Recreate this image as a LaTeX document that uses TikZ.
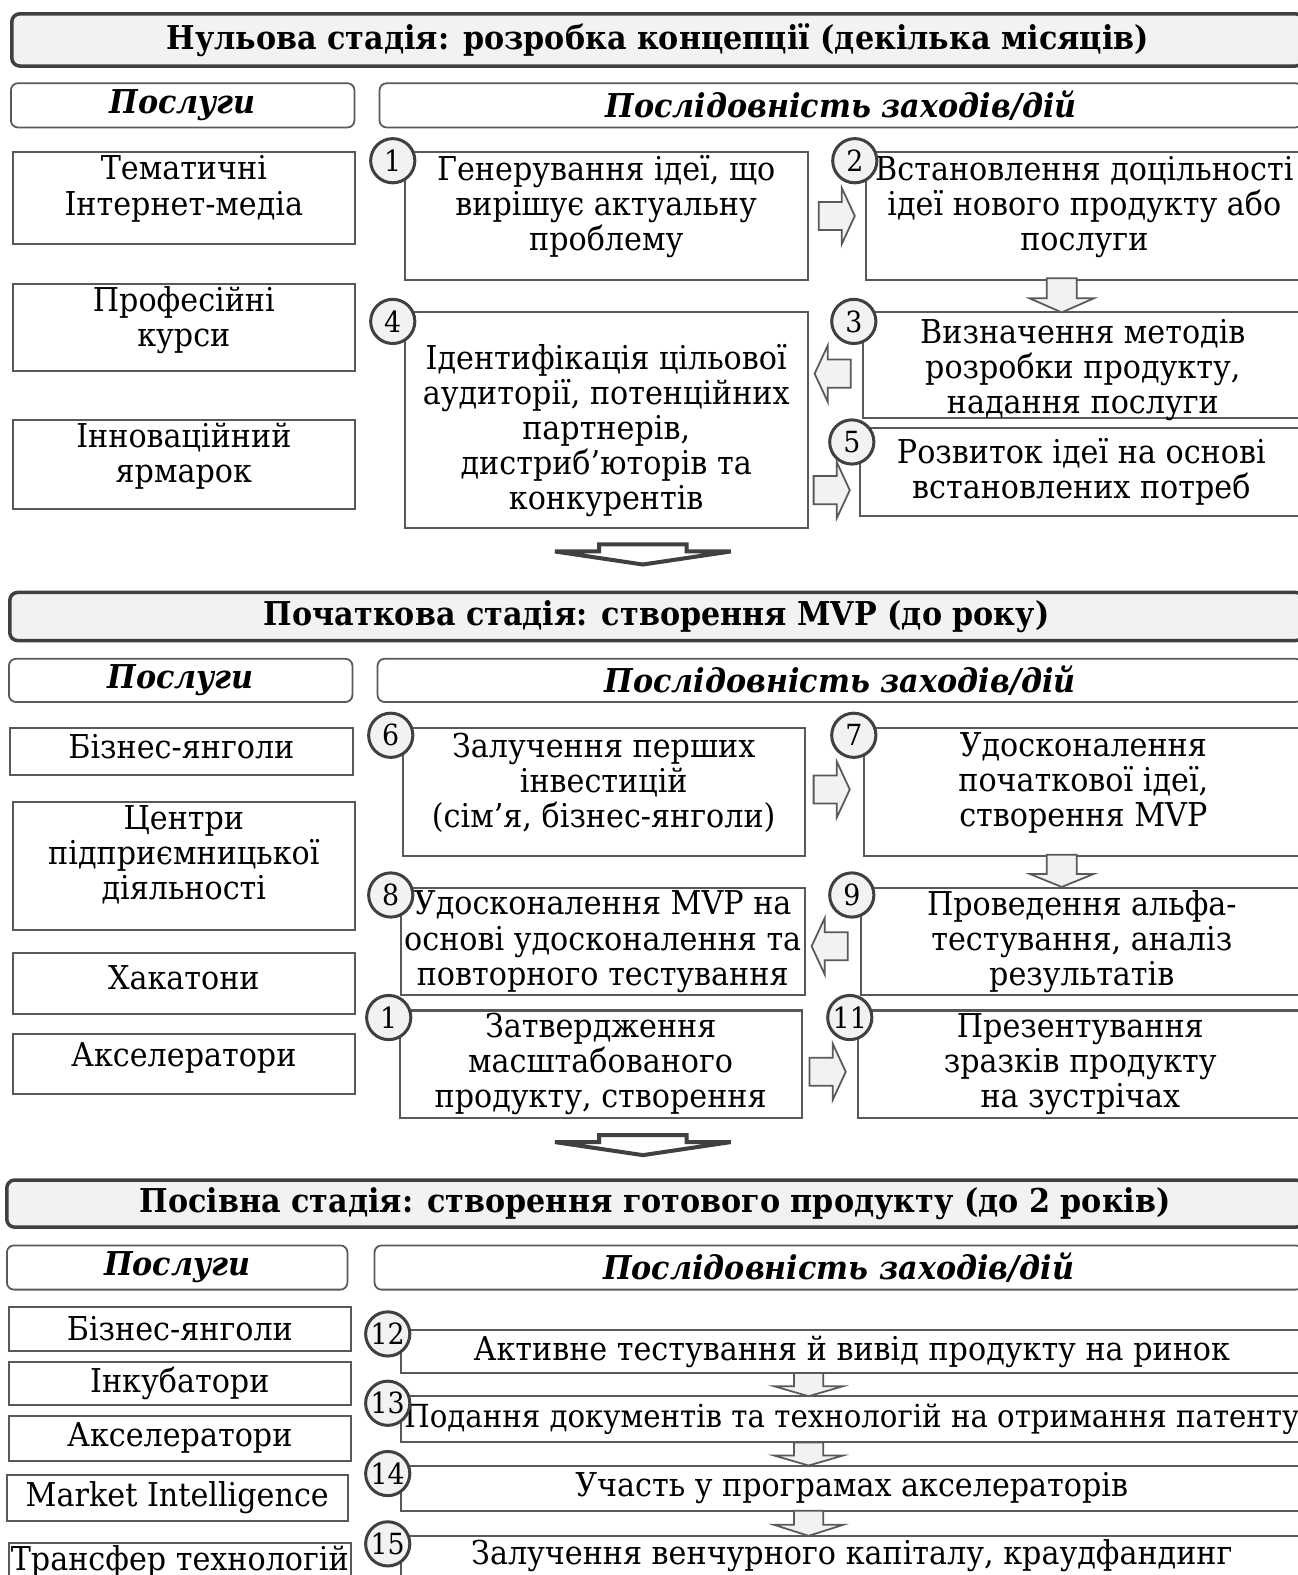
\documentclass[tikz,border=0pt]{standalone}
\usepackage{fontspec}
\setmainfont{DejaVu Serif}[FakeStretch=0.92]
\usepackage{xcolor}
\usepackage{tikz}
\usetikzlibrary{calc}

\definecolor{boxline}{HTML}{595959}
\definecolor{darkline}{HTML}{404040}
\definecolor{lightfill}{HTML}{F2F2F2}

% block arrows: style, centre, half shaft, half head, shaft length, head length
\newcommand{\downblock}[6]{\draw[#1] (#2) ++({-#3},{-(#5+#6)/2}) -- ++({2*#3},0) -- ++(0,#5) -- ++({#4-#3},0) -- ++({-#4},#6) -- ++({-#4},{-#6}) -- ++({#4-#3},0) -- cycle;}
\newcommand{\rightblock}[1]{\draw[blk] (#1) ++(-18,-14) -- ++(23,0) -- ++(0,-14) -- ++(13,28) -- ++(-13,28) -- ++(0,-14) -- ++(-23,0) -- cycle;}
\newcommand{\leftblock}[1]{\draw[blk] (#1) ++(18,-14) -- ++(-23,0) -- ++(0,-14) -- ++(-13,28) -- ++(13,28) -- ++(0,-14) -- ++(23,0) -- cycle;}
\newcommand{\numfont}{\fontsize{16.5}{18}\selectfont}

\begin{document}
\fontsize{18.6}{19.9}\selectfont
\begin{tikzpicture}[x=0.2mm,y=-0.2mm,
  stage/.style={draw=darkline,line width=0.7mm,fill=lightfill,rounded corners=1.6mm,anchor=north west,font=\bfseries,inner sep=0pt},
  head/.style={draw=boxline,line width=0.35mm,rounded corners=1.4mm,anchor=north west,font=\bfseries\itshape,inner sep=0pt},
  serv/.style={draw=boxline,line width=0.4mm,anchor=north west,align=center,inner sep=0pt},
  stepbox/.style={draw=boxline,line width=0.4mm,fill=white,anchor=north west,align=center,inner sep=0pt},
  txt/.style={align=center,inner sep=0pt},
  num/.style={circle,draw=darkline,line width=0.6mm,fill=lightfill,minimum size=8.8mm,inner sep=0pt,font=\numfont},
  blk/.style={draw=boxline,line width=0.35mm,fill=lightfill},
  bigarrow/.style={draw=darkline,line width=0.8mm,fill=white}]
\useasboundingbox (0,0) rectangle (1292,1568);
\fill[white] (0,0) rectangle (1292,1568);
\clip (0,0) rectangle (1292,1568);

% zero stage
\node[stage,minimum width=257.2mm,minimum height=10.4mm] (T1) at (10,12) {Нульова стадія: розробка концепції (декілька місяців)};
\node[head,minimum width=68.4mm,minimum height=8.8mm] (H1a) at (10,82) {Послуги};
\node[head,minimum width=183.8mm,minimum height=8.8mm] (H1b) at (377,82) {Послідовність заходів/дій};
\node[serv,minimum width=68mm,minimum height=18.4mm] (P1) at (12,150) {};
\node[txt] (P1t) at ($(P1.center)+(0,-9)$) {Тематичні\\Інтернет-медіа};
\node[serv,minimum width=68mm,minimum height=17.2mm] (P2) at (12,282) {};
\node[txt] (P2t) at ($(P2.center)+(0,-7)$) {Професійні\\курси};
\node[serv,minimum width=68mm,minimum height=17.8mm] (P3) at (12,417) {};
\node[txt] (P3t) at ($(P3.center)+(0,-8)$) {Інноваційний\\ярмарок};
\node[stepbox,minimum width=80.2mm,minimum height=25.6mm] (S1) at (402,150) {};
\node[txt] (S1t) at ($(S1.center)+(0,-9)$) {Генерування ідеї, що\\вирішує актуальну\\проблему};
\node[stepbox,minimum width=87mm,minimum height=25.6mm] (S2) at (861,150) {};
\node[txt] (S2t) at ($(S2.center)+(0,-9)$) {Встановлення доцільності\\ідеї нового продукту або\\послуги};
\node[stepbox,minimum width=87.6mm,minimum height=21mm] (S3) at (858,310) {};
\node[txt] (S3t) at ($(S3.center)+(0,5)$) {Визначення методів\\розробки продукту,\\надання послуги};
\node[stepbox,minimum width=80.2mm,minimum height=43mm] (S4) at (402,310) {};
\node[txt] (S4t) at ($(S4.center)+(0,10)$) {Ідентифікація цільової\\аудиторії, потенційних\\партнерів,\\дистриб’юторів та\\конкурентів};
\node[stepbox,minimum width=88.2mm,minimum height=17.6mm] (S5) at (855,425) {Розвиток ідеї на основі\\встановлених потреб};

\coordinate (a12) at ($(S1.east)!.5!(S2.west)$);
\coordinate (a23) at (1057,294);
\coordinate (a34) at (829,372);
\coordinate (a45) at (828,488);
\coordinate (go1) at (640,552);
\rightblock{a12}
\downblock{blk}{a23}{15}{32}{20}{14}
\leftblock{a34}
\rightblock{a45}
\downblock{bigarrow}{go1}{43.5}{87.5}{7}{13}

\node[num] (n1) at ($(S1.north west)+(-11,10)$) {1};
\node[num] (n2) at ($(S2.north west)+(-10,10)$) {2};
\node[num] (n3) at ($(S3.north west)+(-8,10)$) {3};
\node[num] (n4) at ($(S4.north west)+(-11,10)$) {4};
\node[num] (n5) at ($(S5.north west)+(-7,15)$) {5};

% initial stage
\node[stage,minimum width=257.6mm,minimum height=9.6mm] (T2) at (8,588) {Початкова стадія: створення MVP (до року)};
\node[head,minimum width=68.4mm,minimum height=8.6mm] (H2a) at (8,655) {Послуги};
\node[head,minimum width=184.2mm,minimum height=8.6mm] (H2b) at (375,655) {Послідовність заходів/дій};
\node[serv,minimum width=68.2mm,minimum height=9.4mm] (Q1) at (9,724) {};
\node[txt] (Q1t) at ($(Q1.center)+(0,-5)$) {Бізнес-янголи};
\node[serv,minimum width=68mm,minimum height=25.6mm] (Q2) at (12,797) {};
\node[txt] (Q2t) at ($(Q2.center)+(0,-11)$) {Центри\\підприємницької\\діяльності};
\node[serv,minimum width=68mm,minimum height=12mm] (Q3) at (12,948) {};
\node[txt] (Q3t) at ($(Q3.center)+(0,-6)$) {Хакатони};
\node[serv,minimum width=68mm,minimum height=12mm] (Q4) at (12,1028) {};
\node[txt] (Q4t) at ($(Q4.center)+(0,-6)$) {Акселератори};
\node[stepbox,minimum width=80mm,minimum height=25.4mm] (S6) at (400,724) {};
\node[txt] (S6t) at ($(S6.center)+(0,-9)$) {Залучення перших\\інвестицій\\(сім’я, бізнес-янголи)};
\node[stepbox,minimum width=87.4mm,minimum height=25.4mm] (S7) at (859,724) {};
\node[txt] (S7t) at ($(S7.center)+(0,-9)$) {Удосконалення\\початкової ідеї,\\створення MVP};
\node[stepbox,minimum width=80.4mm,minimum height=21.4mm] (S8) at (398,883) {Удосконалення MVP на\\основі удосконалення та\\повторного тестування};
\node[stepbox,minimum width=88mm,minimum height=21.4mm] (S9) at (856,883) {Проведення альфа-\\тестування, аналіз\\результатів};
\node[stepbox,minimum width=80mm,minimum height=21.4mm] (S10) at (397,1005) {Затвердження\\масштабованого\\продукту, створення};
\node[stepbox,minimum width=88.6mm,minimum height=21.4mm] (S11) at (853,1005) {Презентування\\зразків продукту\\на зустрічах};

\coordinate (a67) at (828,786);
\coordinate (a79) at (1057,867);
\coordinate (a98) at (826,942);
\coordinate (a1011) at (824,1067);
\coordinate (go2) at (640,1140);
\rightblock{a67}
\downblock{blk}{a79}{15}{32}{19}{13}
\leftblock{a98}
\rightblock{a1011}
\downblock{bigarrow}{go2}{43.5}{87.5}{7}{13}

\node[num] (n6) at ($(S6.north west)+(-11,8)$) {6};
\node[num] (n7) at ($(S7.north west)+(-9,8)$) {7};
\node[num] (n8) at ($(S8.north west)+(-9,8)$) {8};
\node[num] (n9) at ($(S9.north west)+(-8,8)$) {9};
\node[num] (n10) at ($(S10.north west)+(-10,8)$) {1};
\node[num] (n11) at ($(S11.north west)+(-7,8)$) {11};

% seed stage
\node[stage,minimum width=258.2mm,minimum height=9.4mm] (T3) at (5,1173) {Посівна стадія: створення готового продукту (до 2 років)};
\node[head,minimum width=67.8mm,minimum height=8.8mm] (H3a) at (6,1239) {Послуги};
\node[head,minimum width=184.8mm,minimum height=8.8mm] (H3b) at (372,1239) {Послідовність заходів/дій};
\node[serv,minimum width=68mm,minimum height=8.8mm] (U1) at (8,1300) {Бізнес-янголи};
\node[serv,minimum width=68mm,minimum height=8.6mm] (U2) at (8,1355) {Інкубатори};
\node[serv,minimum width=68mm,minimum height=8.8mm] (U3) at (8,1409) {Акселератори};
\node[serv,minimum width=67.8mm,minimum height=9.2mm] (U4) at (6,1467) {Market Intelligence};
\node[serv,minimum width=68mm,minimum height=7.2mm] (U5) at (8,1535) {Трансфер технологій};
\node[stepbox,minimum width=179.6mm,minimum height=8.6mm] (S12) at (398,1323) {Активне тестування й вивід продукту на ринок};
\node[stepbox,minimum width=179.6mm,minimum height=9.2mm,font=\fontsize{18}{19.9}\selectfont] (S13) at (398,1389) {Подання документів та технологій на отримання патенту};
\node[stepbox,minimum width=179.6mm,minimum height=9mm] (S14) at (398,1458) {Участь у програмах акселераторів};
\node[stepbox,minimum width=179.6mm,minimum height=8mm] (S15) at (398,1528) {Залучення венчурного капіталу, краудфандинг};

\coordinate (a1213) at ($(S12.south)!.5!(S13.north)+(-43,0)$);
\coordinate (a1314) at ($(S13.south)!.5!(S14.north)+(-43,0)$);
\coordinate (a1415) at ($(S14.south)!.5!(S15.north)+(-43,0)$);
\downblock{blk}{a1213}{14.5}{34.5}{13}{10}
\downblock{blk}{a1314}{14.5}{34.5}{13}{10}
\downblock{blk}{a1415}{14.5}{34.5}{14}{11}

\node[num] (n12) at ($(S12.north west)+(-12,5)$) {12};
\node[num] (n13) at ($(S13.north west)+(-12,8)$) {13};
\node[num] (n14) at ($(S14.north west)+(-12,9)$) {14};
\node[num] (n15) at ($(S15.north west)+(-12,9)$) {15};
\end{tikzpicture}
\end{document}
